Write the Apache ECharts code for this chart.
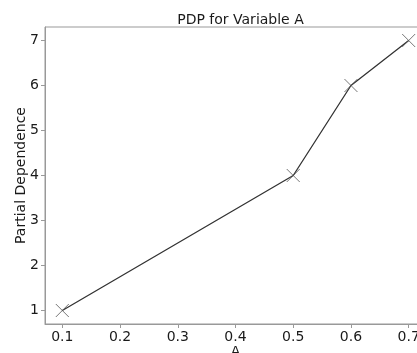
<!DOCTYPE html>
<html>
<head>
<meta charset="utf-8">
<script src="https://cdn.jsdelivr.net/npm/echarts@6/dist/echarts.min.js"></script>
<style>html,body{margin:0;padding:0;background:#fff}#c{width:417px;height:353px}</style>
</head>
<body>
<div id="c"></div>
<script>
const xValues = [0.1, 0.5, 0.6, 0.7];
const yValues = [1, 4, 6, 7];
const xTicks = [0.1, 0.2, 0.3, 0.4, 0.5, 0.6, 0.7];
const yTicks = [1, 2, 3, 4, 5, 6, 7];
const titleText = 'PDP for Variable A';
const xName = 'A';
const yName = 'Partial Dependence';

const pts = xValues.map((x, i) => [x, yValues[i]]);
const font = 'DejaVu Sans';
const chart = echarts.init(document.getElementById('c'), null, {renderer: 'canvas'});
chart.setOption({
  animation: false,
  title: {text: titleText, left: 235.5, textAlign: 'center', top: 8,
    textStyle: {fontFamily: font, fontSize: 14, fontWeight: 'normal', color: '#1a1a1a'}},
  grid: {left: 45, right: -9, top: 27, bottom: 29, show: true, borderColor: '#999', borderWidth: 1,
    outerBoundsMode: 'none', containLabel: false},
  xAxis: {
    type: 'value', min: 0.07, max: 0.73,
    name: xName, nameLocation: 'middle', nameGap: 21, nameMoveOverlap: false,
    nameTextStyle: {fontFamily: font, fontSize: 14, color: '#1a1a1a', verticalAlign: 'top'},
    axisLine: {show: true, lineStyle: {color: '#999', width: 1}},
    axisTick: {show: true, length: 4, customValues: xTicks, lineStyle: {color: '#999'}},
    axisLabel: {customValues: xTicks, fontFamily: font, fontSize: 14, color: '#1a1a1a', margin: 6,
      formatter: v => v.toFixed(1)},
    splitLine: {show: false}
  },
  yAxis: {
    type: 'value', min: 0.7, max: 7.3,
    name: yName, nameLocation: 'middle', nameGap: 17, nameMoveOverlap: false,
    nameTextStyle: {fontFamily: font, fontSize: 14, color: '#1a1a1a'},
    axisLine: {show: true, lineStyle: {color: '#999', width: 1}},
    axisTick: {show: true, length: 4, customValues: yTicks, lineStyle: {color: '#999'}},
    axisLabel: {customValues: yTicks, fontFamily: font, fontSize: 14, color: '#1a1a1a', margin: 6},
    splitLine: {show: false}
  },
  series: [
    {type: 'line', data: pts, symbol: 'none', lineStyle: {color: '#333', width: 1.3}, z: 2},
    {type: 'scatter', data: pts, symbol: 'path://M0,0L10,10M10,0L0,10', symbolSize: 13,
      itemStyle: {color: 'none', borderColor: '#555', borderWidth: 1}, z: 3}
  ]
});
</script>
</body>
</html>
